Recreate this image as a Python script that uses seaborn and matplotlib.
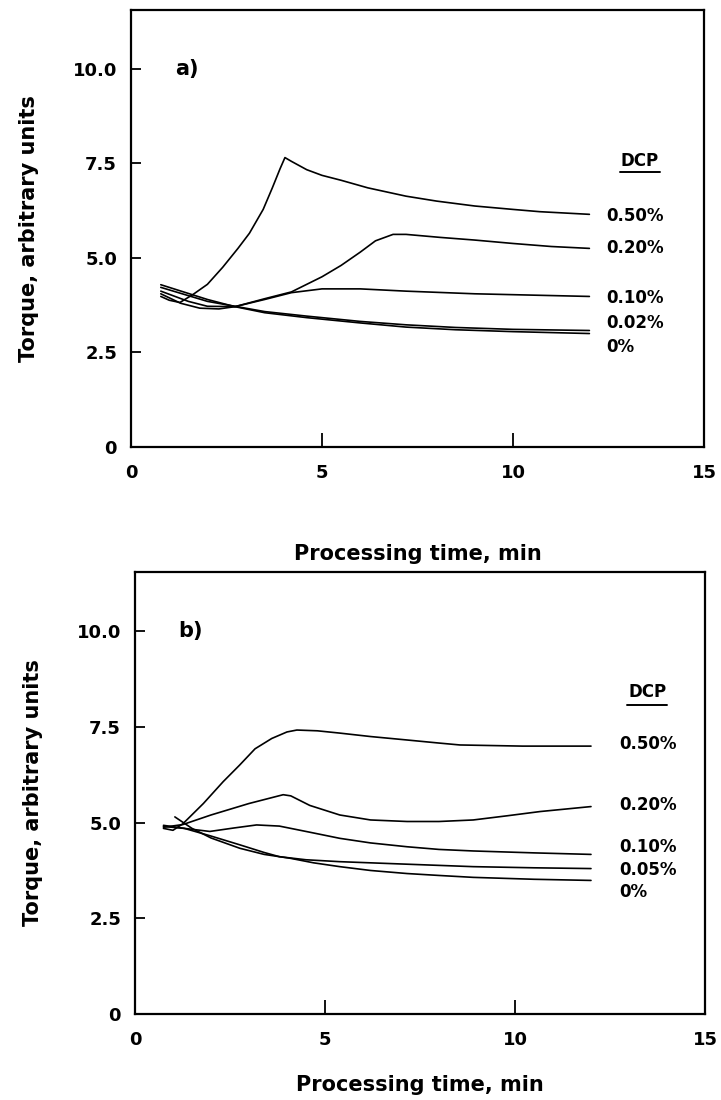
import matplotlib
matplotlib.use("Agg")
import matplotlib.pyplot as plt
import seaborn as sns
import pandas as pd

# ---------------- data ----------------
# Panel a)
a_labels = ["0.50%", "0.20%", "0.10%", "0.02%", "0%"]
a_t050 = [0.78, 1.0, 1.28, 1.62, 2.0, 2.4, 2.8, 3.1, 3.46, 3.7, 3.9, 4.03, 4.2, 4.6, 5.0, 5.5, 6.2, 7.2, 8.0, 9.0, 10.0, 10.7, 12.0]
a_y050 = [3.98, 3.88, 3.82, 4.03, 4.3, 4.75, 5.25, 5.65, 6.28, 6.85, 7.35, 7.65, 7.55, 7.33, 7.18, 7.05, 6.85, 6.63, 6.5, 6.37, 6.28, 6.22, 6.15]
a_t020 = [0.78, 1.3, 1.8, 2.3, 2.72, 3.5, 4.2, 5.0, 5.5, 6.0, 6.4, 6.86, 7.2, 8.1, 9.0, 10.0, 11.0, 12.0]
a_y020 = [4.05, 3.8, 3.67, 3.65, 3.71, 3.92, 4.1, 4.5, 4.8, 5.15, 5.45, 5.62, 5.62, 5.54, 5.47, 5.38, 5.3, 5.25]
a_t010 = [0.78, 1.5, 2.0, 2.72, 3.5, 4.2, 5.0, 6.0, 7.2, 9.0, 12.0]
a_y010 = [4.12, 3.85, 3.72, 3.71, 3.9, 4.08, 4.18, 4.18, 4.12, 4.05, 3.98]
a_t002 = [0.78, 2.0, 2.72, 3.5, 4.6, 6.0, 7.2, 8.5, 10.0, 12.0]
a_y002 = [4.22, 3.85, 3.72, 3.58, 3.46, 3.32, 3.23, 3.16, 3.11, 3.08]
a_t000 = [0.78, 2.0, 2.72, 3.5, 4.6, 6.0, 7.2, 8.5, 10.0, 12.0]
a_y000 = [4.29, 3.9, 3.71, 3.55, 3.42, 3.28, 3.17, 3.1, 3.05, 3.0]
a_label_y = [6.1, 5.26, 3.93, 3.27, 2.64]

# Panel b)
b_labels = ["0.50%", "0.20%", "0.10%", "0.05%", "0%"]
b_t050 = [0.75, 1.0, 1.26, 1.8, 2.32, 2.75, 3.16, 3.6, 4.0, 4.26, 4.8, 5.39, 6.2, 7.16, 8.0, 8.55, 10.2, 12.0]
b_y050 = [4.85, 4.8, 4.97, 5.5, 6.07, 6.5, 6.93, 7.2, 7.37, 7.42, 7.4, 7.34, 7.25, 7.16, 7.08, 7.03, 7.0, 7.0]
b_t020 = [0.75, 1.26, 2.0, 3.0, 3.9, 4.1, 4.6, 5.39, 6.2, 7.16, 8.0, 8.9, 9.8, 10.66, 12.0]
b_y020 = [4.88, 4.95, 5.2, 5.5, 5.73, 5.7, 5.45, 5.2, 5.07, 5.03, 5.03, 5.07, 5.18, 5.29, 5.42]
b_t010 = [0.75, 1.3, 1.97, 2.6, 3.2, 3.8, 4.6, 5.39, 6.2, 7.16, 8.0, 8.9, 10.5, 12.0]
b_y010 = [4.9, 4.85, 4.77, 4.86, 4.94, 4.91, 4.75, 4.59, 4.47, 4.37, 4.3, 4.26, 4.21, 4.17]
b_t005 = [0.75, 1.3, 2.0, 2.76, 3.4, 3.8, 4.5, 5.39, 7.0, 8.9, 10.5, 12.0]
b_y005 = [4.93, 4.85, 4.65, 4.42, 4.22, 4.11, 4.03, 3.98, 3.92, 3.85, 3.82, 3.8]
b_t000 = [1.05, 1.5, 2.0, 2.76, 3.4, 4.08, 4.7, 5.39, 6.2, 7.16, 8.0, 8.9, 10.5, 12.0]
b_y000 = [5.15, 4.85, 4.6, 4.33, 4.17, 4.07, 3.95, 3.85, 3.75, 3.67, 3.62, 3.57, 3.52, 3.49]
b_label_y = [7.06, 5.47, 4.375, 3.75, 3.2]

x_ticks = [0, 5, 10, 15]
x_ticklabels = ["0", "5", "10", "15"]
y_ticks = [0, 2.5, 5.0, 7.5, 10.0]
y_ticklabels = ["0", "2.5", "5.0", "7.5", "10.0"]

# ---------------- styling ----------------
sns.set_style("ticks")
plt.rcParams["font.family"] = ["DejaVu Sans"]
plt.rcParams["font.weight"] = "bold"
plt.rcParams["text.color"] = "black"
plt.rcParams["axes.labelcolor"] = "black"
plt.rcParams["xtick.color"] = "black"
plt.rcParams["ytick.color"] = "black"

fig = plt.figure(figsize=(7.21, 11.0), dpi=100)
ax_a = fig.add_axes([0.1817, 0.5936, 0.7947, 0.3973])
ax_b = fig.add_axes([0.1872, 0.0782, 0.7906, 0.4018])


def build_df(ts, ys, labels):
    frames = []
    for t, y, lab in zip(ts, ys, labels):
        frames.append(pd.DataFrame({"time": t, "torque": y, "DCP": lab}))
    return pd.concat(frames, ignore_index=True)


df_a = build_df([a_t050, a_t020, a_t010, a_t002, a_t000],
                [a_y050, a_y020, a_y010, a_y002, a_y000], a_labels)
df_b = build_df([b_t050, b_t020, b_t010, b_t005, b_t000],
                [b_y050, b_y020, b_y010, b_y005, b_y000], b_labels)


def draw(ax, df, labels, label_y, tag, lab_x, dcp_x, dcp_y, ul_y, ul_x0, ul_x1, xpad):
    sns.lineplot(data=df, x="time", y="torque", units="DCP", estimator=None,
                 sort=False, color="black", linewidth=1.2, ax=ax, legend=False)
    ax.set_xlim(0, 15)
    ax.set_ylim(0, 11.55)
    ax.set_xticks(x_ticks)
    ax.set_xticklabels(x_ticklabels, fontsize=13, fontweight="bold", color="black")
    ax.set_yticks(y_ticks)
    ax.set_yticklabels(y_ticklabels, fontsize=13, fontweight="bold", color="black")
    ax.tick_params(direction="in", length=7, width=1.3, pad=10, colors="black")
    ax.tick_params(axis="x", length=10, pad=12)
    for s in ax.spines.values():
        s.set_visible(True)
        s.set_linewidth(1.6)
        s.set_color("black")
    ax.set_xlabel("Processing time, min", fontsize=15, fontweight="bold",
                  labelpad=xpad, color="black")
    ax.set_ylabel("Torque, arbitrary units", fontsize=15, fontweight="bold",
                  labelpad=24, color="black")
    ax.text(1.15, 10.0, tag, fontsize=15, fontweight="bold", va="center", ha="left")
    for lab, yy in zip(labels, label_y):
        ax.text(lab_x, yy, lab, fontsize=12, fontweight="bold", va="center", ha="left")
    ax.text(dcp_x, dcp_y, "DCP", fontsize=12, fontweight="bold", va="center", ha="center")
    ax.plot([ul_x0, ul_x1], [ul_y, ul_y], color="black", linewidth=1.4)


draw(ax_a, df_a, a_labels, a_label_y, "a)", 12.45, 13.32, 7.55, 7.28, 12.8, 13.85, 45)
draw(ax_b, df_b, b_labels, b_label_y, "b)", 12.75, 13.5, 8.42, 8.08, 12.95, 14.0, 19)

fig.savefig("out.png", dpi=100)
